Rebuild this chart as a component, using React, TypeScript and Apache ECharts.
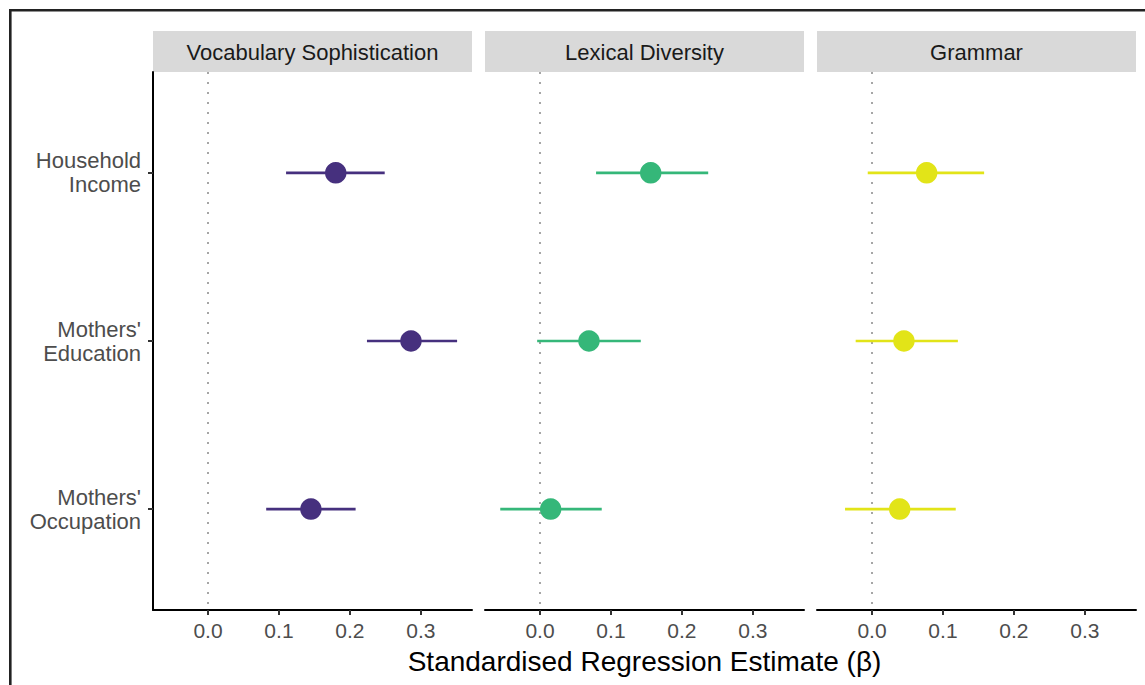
import React, { useEffect, useRef } from "react";
import * as echarts from "echarts";

const categories = ["Household\nIncome", "Mothers'\nEducation", "Mothers'\nOccupation"];
const outcomes = ["Vocabulary Sophistication", "Lexical Diversity", "Grammar"];
const xTicks = [0, 0.1, 0.2, 0.3];
const colors = ["#46307e", "#35b779", "#e2e418"];

const vocabEst = [0.18, 0.286, 0.145];
const vocabLow = [0.11, 0.224, 0.082];
const vocabHigh = [0.249, 0.351, 0.208];

const lexEst = [0.156, 0.069, 0.015];
const lexLow = [0.079, -0.004, -0.056];
const lexHigh = [0.237, 0.142, 0.087];

const gramEst = [0.077, 0.045, 0.039];
const gramLow = [-0.006, -0.023, -0.038];
const gramHigh = [0.158, 0.121, 0.118];

const ests = [vocabEst, lexEst, gramEst];
const lows = [vocabLow, lexLow, gramLow];
const highs = [vocabHigh, lexHigh, gramHigh];

const FONT = "Liberation Sans, Arial, Helvetica, sans-serif";
const panelLefts = [153, 485, 817];
const panelWidth = 319;
const panelTop = 72;
const panelHeight = 538;

export default function App() {
  const ref = useRef<HTMLDivElement>(null);
  useEffect(() => {
    if (!ref.current) return;
    const chart = echarts.init(ref.current, null, { renderer: "svg" });

    const grids = panelLefts.map((l) => ({ left: l, top: panelTop, width: panelWidth, height: panelHeight }));
    const xAxes = panelLefts.map((_, i) => ({
      type: "value",
      gridIndex: i,
      min: -0.0775,
      max: 0.372,
      splitLine: { show: false },
      axisLine: { show: true, lineStyle: { color: "#000", width: 2 } },
      axisTick: { show: true, length: 5, customValues: xTicks, lineStyle: { color: "#333", width: 2 } },
      axisLabel: {
        customValues: xTicks,
        formatter: (v: number) => v.toFixed(1),
        color: "#4d4d4d",
        fontSize: 21,
        fontFamily: FONT,
        margin: 10,
      },
    }));
    const yAxes = panelLefts.map((_, i) => ({
      type: "value",
      gridIndex: i,
      min: 0.4,
      max: 3.6,
      inverse: true,
      splitLine: { show: false },
      axisLine: { show: i === 0, onZero: false, lineStyle: { color: "#000", width: 2 } },
      axisTick: { show: i === 0, length: 5, customValues: [1, 2, 3], lineStyle: { color: "#333", width: 2 } },
      axisLabel: {
        show: i === 0,
        customValues: [1, 2, 3],
        formatter: (v: number) => categories[Math.round(v) - 1] || "",
        color: "#4d4d4d",
        fontSize: 22,
        lineHeight: 24,
        align: "right",
        fontFamily: FONT,
        margin: 12,
      },
    }));

    const series: any[] = [];
    outcomes.forEach((_, i) => {
      const data = categories.map((_, j) => [lows[i][j], highs[i][j], j + 1]);
      series.push({
        type: "custom",
        xAxisIndex: i,
        yAxisIndex: i,
        data,
        z: 2,
        renderItem: (params: any, api: any) => {
          const p1 = api.coord([api.value(0), api.value(2)]);
          const p2 = api.coord([api.value(1), api.value(2)]);
          return {
            type: "line",
            shape: { x1: p1[0], y1: p1[1], x2: p2[0], y2: p2[1] },
            style: { stroke: colors[i], lineWidth: 2.6 },
          };
        },
      });
      series.push({
        type: "scatter",
        xAxisIndex: i,
        yAxisIndex: i,
        symbol: "circle",
        symbolSize: 21.5,
        itemStyle: { color: colors[i], opacity: 1 },
        data: categories.map((_, j) => [ests[i][j], j + 1]),
        z: 3,
        markLine: {
          silent: true,
          symbol: "none",
          label: { show: false },
          lineStyle: { color: "#a6a6a6", width: 2, type: [2, 8] },
          data: [{ xAxis: 0 }],
          z: 1,
        },
      });
    });

    const graphic: any[] = [];
    panelLefts.forEach((l, i) => {
      graphic.push({
        type: "rect",
        shape: { x: l, y: 31, width: panelWidth, height: 41 },
        style: { fill: "#d9d9d9" },
      });
      graphic.push({
        type: "text",
        x: l + panelWidth / 2,
        y: 52,
        style: {
          text: outcomes[i],
          fill: "#1a1a1a",
          fontSize: 22,
          fontFamily: FONT,
          textAlign: "center",
          textVerticalAlign: "middle",
        },
      });
    });
    graphic.push({
      type: "text",
      x: 644.5,
      y: 661,
      style: {
        text: "Standardised Regression Estimate (β)",
        fill: "#000",
        fontSize: 28,
        fontFamily: FONT,
        textAlign: "center",
        textVerticalAlign: "middle",
      },
    });
    graphic.push({
      type: "polyline",
      shape: { points: [[10.3, 690], [10.3, 10.3], [1150, 10.3]] },
      style: { stroke: "#222", lineWidth: 2.6, fill: null },
    });

    chart.setOption({
      animation: false,
      backgroundColor: "#fff",
      grid: grids,
      xAxis: xAxes,
      yAxis: yAxes,
      series,
      graphic,
    });
    return () => chart.dispose();
  }, []);
  return <div ref={ref} style={{ position: "fixed", left: 0, top: 0, width: 1145, height: 685 }} />;
}
